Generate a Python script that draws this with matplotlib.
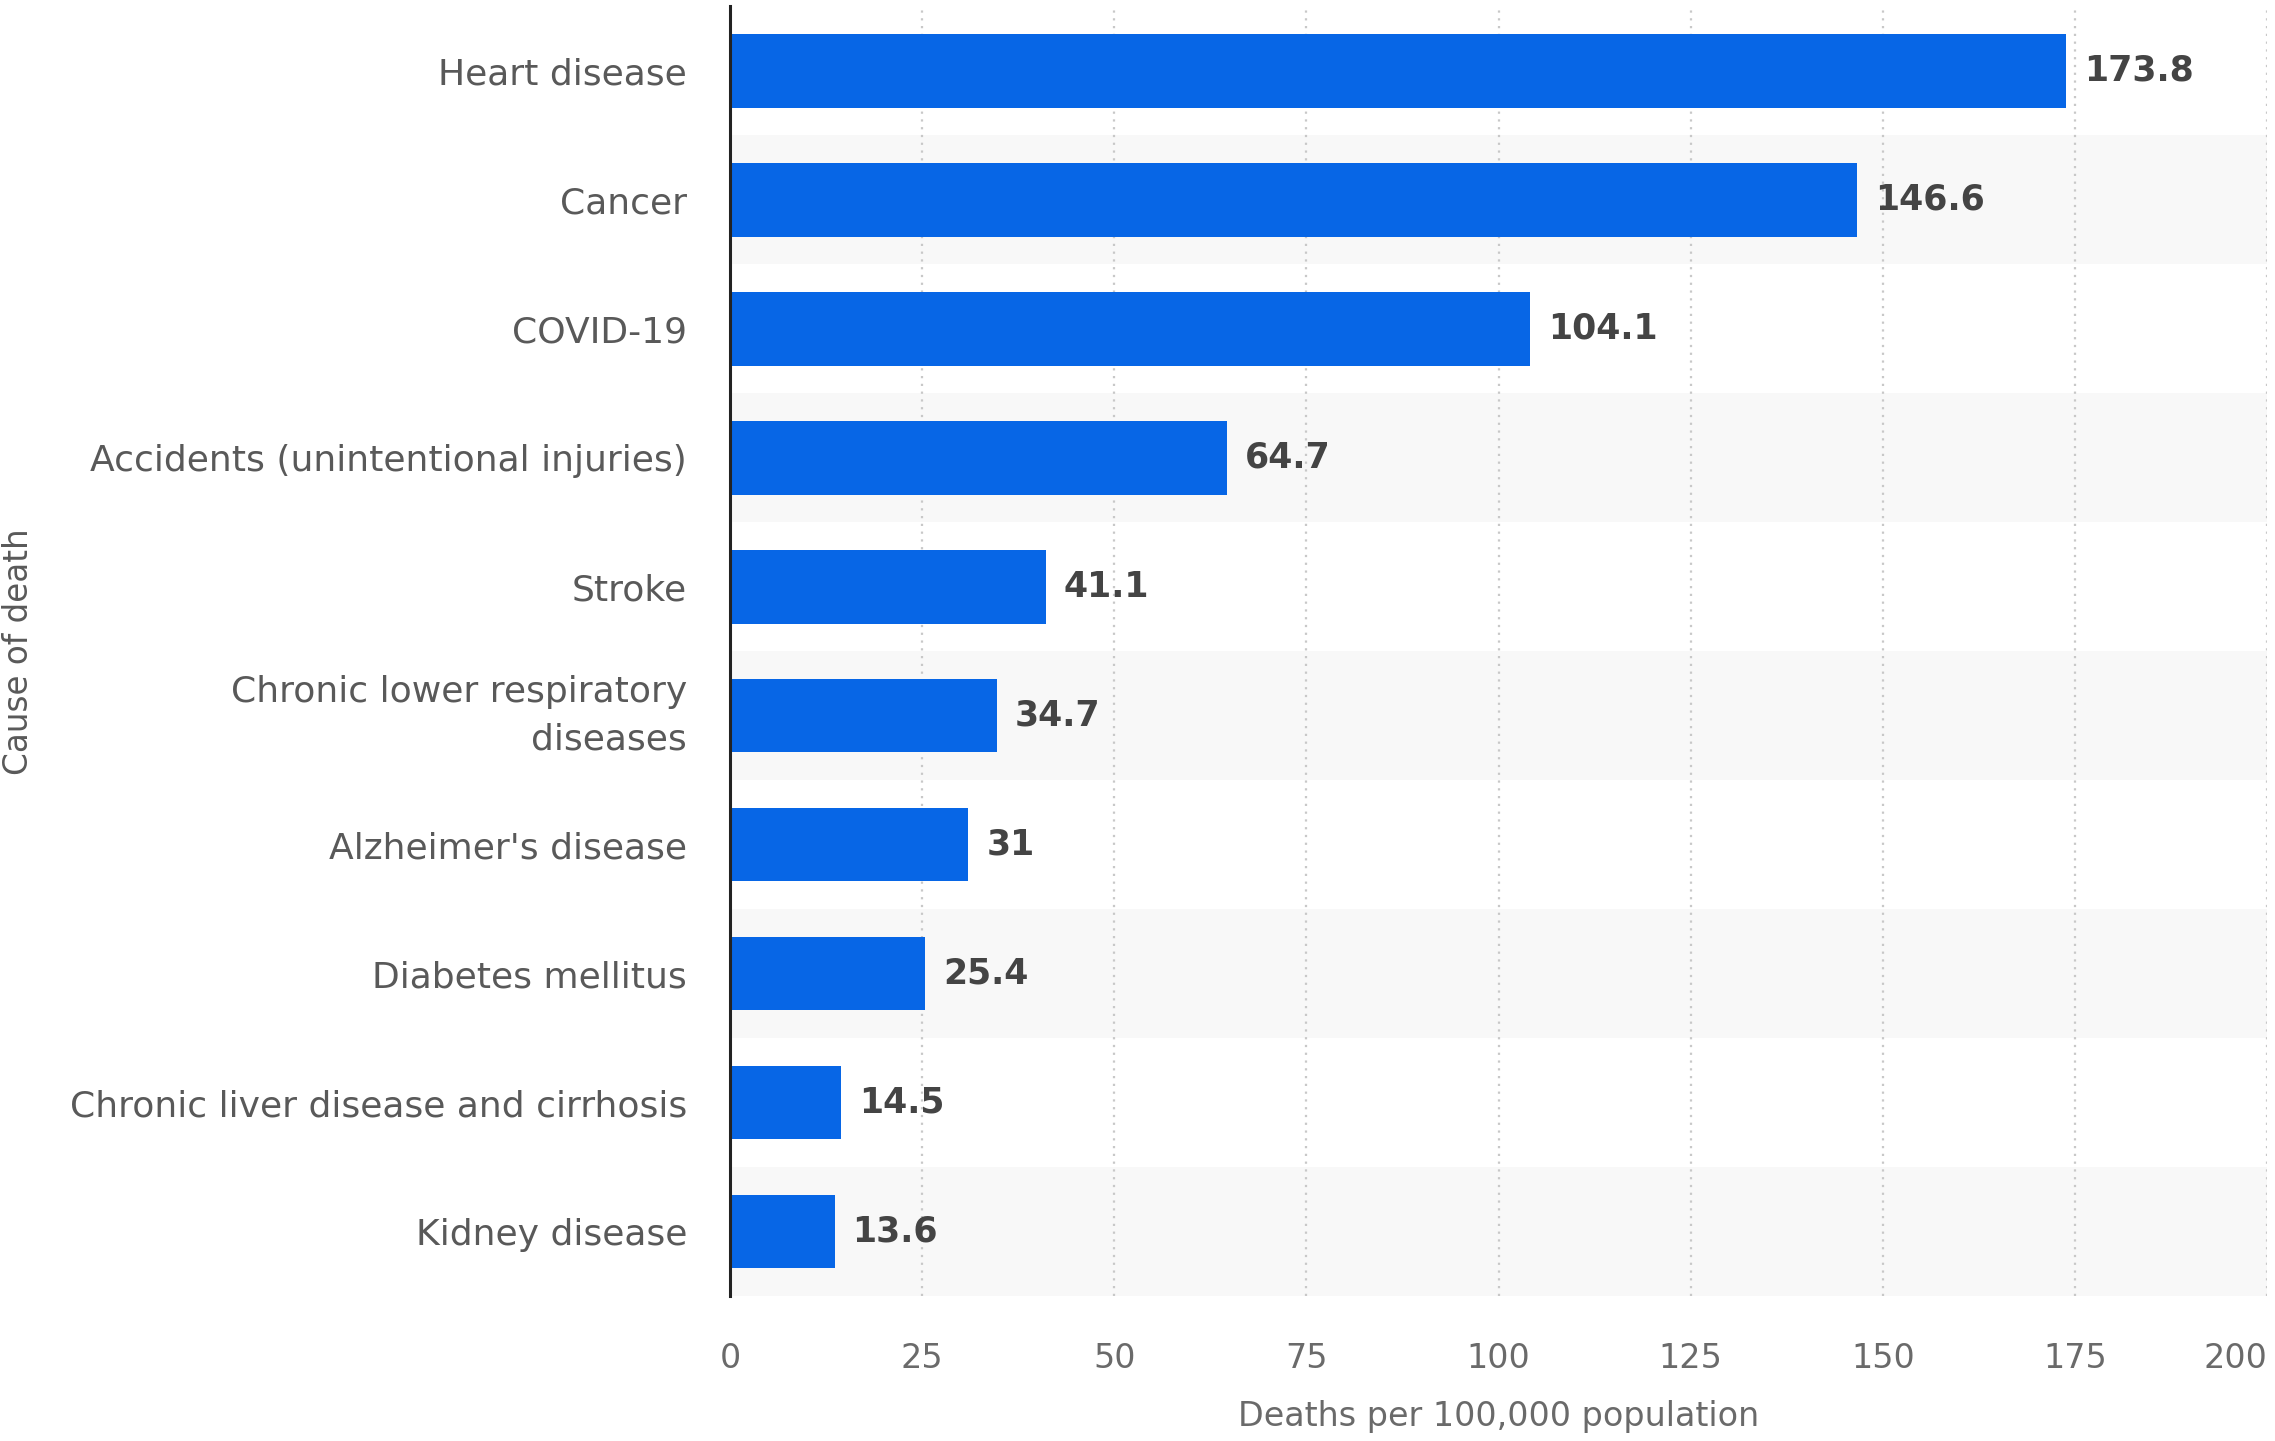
import matplotlib
matplotlib.use("Agg")
import matplotlib.pyplot as plt

categories = ["Heart disease", "Cancer", "COVID-19", "Accidents (unintentional injuries)",
              "Stroke", "Chronic lower respiratory\ndiseases", "Alzheimer's disease",
              "Diabetes mellitus", "Chronic liver disease and cirrhosis", "Kidney disease"]
values = [173.8, 146.6, 104.1, 64.7, 41.1, 34.7, 31, 25.4, 14.5, 13.6]
value_labels = ["173.8", "146.6", "104.1", "64.7", "41.1", "34.7", "31", "25.4", "14.5", "13.6"]
xticks = [0, 25, 50, 75, 100, 125, 150, 175, 200]

plt.rcParams['font.family'] = ['DejaVu Sans']

fig = plt.figure(figsize=(22.75, 14.41), dpi=100)
ax = fig.add_axes([0.3209, 0.1006, 0.6756, 0.8949])

n = len(categories)
ypos = list(range(n))
for i in ypos:
    if i % 2 == 1:
        ax.axhspan(i - 0.5, i + 0.5, color="#f8f8f8", zorder=0, lw=0)

for t in xticks[1:]:
    ax.axvline(t, color="#c8c8c8", linestyle=(0, (1, 2.5)), lw=1.6, zorder=1)

ax.barh(ypos, values, height=0.57, color="#0766e6", zorder=2)
for i, (v, lab) in enumerate(zip(values, value_labels)):
    ax.annotate(lab, (v, i), xytext=(13, 0), textcoords="offset points",
                va="center", ha="left", fontsize=25, fontweight="bold", color="#444444")

ax.set_ylim(n - 0.5, -0.5)
ax.set_xlim(0, 200)
ax.set_yticks(ypos)
yl = ax.set_yticklabels(categories, fontsize=26, color="#595959", ha="right", linespacing=1.5)
for lab in yl:
    if "\n" in lab.get_text():
        lab.set_va("center")
ax.set_xticks(xticks)
xl = ax.set_xticklabels([str(t) for t in xticks], fontsize=24, color="#6a6a6a")
xl[-1].set_ha("right")
ax.tick_params(axis="y", length=0, pad=31)
ax.tick_params(axis="x", length=0, pad=33)
for s in ["top", "right", "bottom"]:
    ax.spines[s].set_visible(False)
ax.spines["left"].set_color("#222222")
ax.spines["left"].set_linewidth(2.2)

ax.set_xlabel("Deaths per 100,000 population", fontsize=24, color="#6a6a6a", labelpad=18)
ax.set_ylabel("Cause of death", fontsize=23.5, color="#595959")
ax.yaxis.set_label_coords(-0.452, 0.5)

fig.savefig("out.png", dpi=100, facecolor="white")
